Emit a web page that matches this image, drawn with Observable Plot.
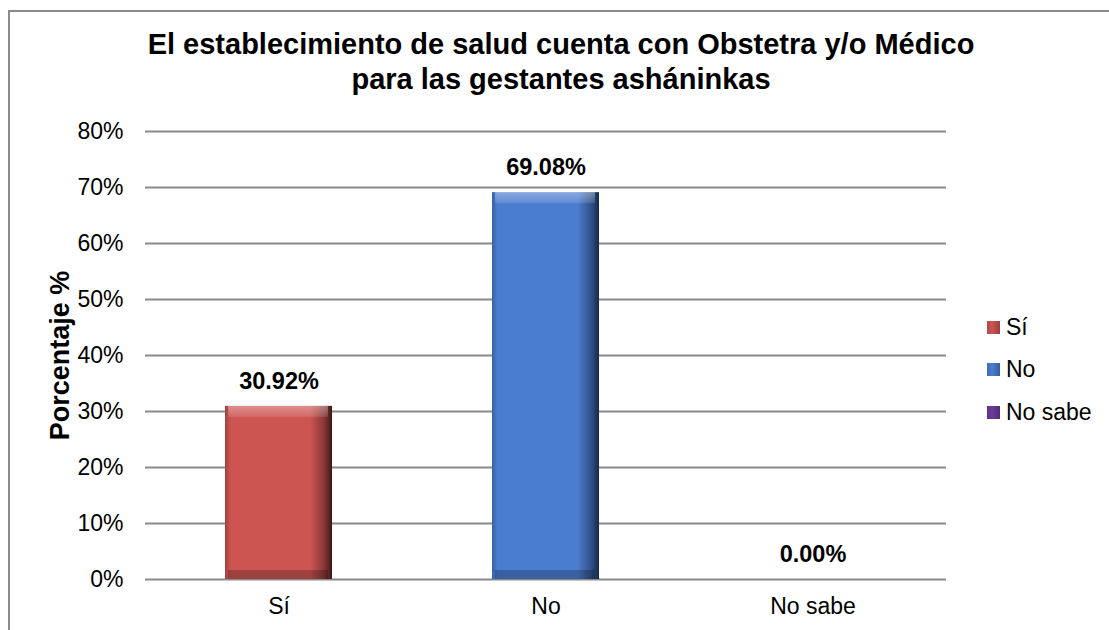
<!DOCTYPE html>
<html>
<head>
<meta charset="utf-8">
<script src="https://cdn.jsdelivr.net/npm/d3@7"></script>
<script src="https://cdn.jsdelivr.net/npm/@observablehq/plot@0.6"></script>
<style>
  html, body { margin: 0; padding: 0; background: #fff; }
  #wrap { position: relative; width: 1109px; height: 630px; overflow: hidden; font-family: Arial, "Liberation Sans", sans-serif; }
  #frame { position: absolute; left: 8px; top: 10px; width: 1200px; height: 800px; border: 2px solid #8a8a8a; box-sizing: border-box; pointer-events: none; }
  #title { height: 110px; box-sizing: border-box; padding-top: 27px; width: 1122px; text-align: center; font-weight: bold; font-size: 29px; line-height: 35px; color: #000; }
  #legend { position: absolute; left: 987px; top: 306px; font-size: 23px; color: #000; }
  .item { display: flex; align-items: center; height: 42.5px; }
  .sw { width: 13px; height: 13px; margin-right: 6px; }
</style>
</head>
<body>
<div id="wrap">
  <div id="frame"></div>
  <div id="title">El establecimiento de salud cuenta con Obstetra y/o Médico<br>para las gestantes asháninkas</div>
  <div id="chart"></div>
  <div id="legend"></div>
</div>
<script>
const categories = ["Sí", "No", "No sabe"];
const values = [0.3092, 0.6908, 0.0];
const labels = ["30.92%", "69.08%", "0.00%"];
const yTicks = [0, 0.1, 0.2, 0.3, 0.4, 0.5, 0.6, 0.7, 0.8];
const baseColors = ["#CC5451", "#4A7CCF", "#6B3A9B"];
const darkColors = ["#3f1514", "#162848", "#2a1040"];
const gradIds = ["gSi", "gNo", "gNs"];

const data = categories.map((c, i) => ({cat: c, value: values[i], label: labels[i]}));
const nonZero = d => d.value > 0;

const plot = Plot.plot({
  width: 1109,
  height: 520,
  marginLeft: 145,
  marginRight: 163,
  marginTop: 21,
  marginBottom: 51,
  style: {fontFamily: "Arial, 'Liberation Sans', sans-serif", fontSize: "23px", color: "#000", background: "transparent", overflow: "visible"},
  x: {domain: categories, paddingInner: 0.6, paddingOuter: 0.3, label: null},
  y: {domain: [0, 0.8], label: null},
  color: {type: "ordinal", domain: categories, range: gradIds.map(id => `url(#${id})`)},
  marks: [
    Plot.gridY(yTicks, {stroke: "#8a8a8a", strokeOpacity: 1, strokeWidth: 2}),
    Plot.barY(data, {x: "cat", y: "value", fill: "cat"}),
    // top bevel (lighter band)
    Plot.rectY(data, {filter: nonZero, x: "cat", y1: "value", y2: "value", insetBottom: -11, insetLeft: 3, insetRight: 4, fill: "url(#gTop)"}),
    // bottom bevel (darker band)
    Plot.rectY(data, {filter: nonZero, x: "cat", y1: 0, y2: 0, insetTop: -9, insetLeft: 3, insetRight: 4, fill: "#000", fillOpacity: 0.22}),
    Plot.axisY(yTicks, {tickFormat: d3.format(".0%"), tickSize: 0, tickPadding: 22, fontSize: 23, label: null}),
    Plot.axisX({tickSize: 0, tickPadding: 18, fontSize: 23, label: null}),
    Plot.text(["Porcentaje %"], {frameAnchor: "left", textAnchor: "middle", rotate: -90, dx: -85, fontWeight: "bold", fontSize: 27}),
    Plot.text(data, {x: "cat", y: "value", text: "label", dy: -25, fontWeight: "bold", fontSize: 23.5})
  ]
});

// gradient definitions for the bevelled bars
const svg = d3.select(plot);
const defs = svg.insert("defs", ":first-child");
gradIds.forEach((id, i) => {
  const base = d3.color(baseColors[i]);
  const g = defs.append("linearGradient").attr("id", id).attr("x1", 0).attr("x2", 1).attr("y1", 0).attr("y2", 0);
  g.append("stop").attr("offset", "0%").attr("stop-color", base.darker(0.7));
  g.append("stop").attr("offset", "5%").attr("stop-color", base);
  g.append("stop").attr("offset", "80%").attr("stop-color", base);
  g.append("stop").attr("offset", "93%").attr("stop-color", base.darker(1.2));
  g.append("stop").attr("offset", "100%").attr("stop-color", darkColors[i]);
});
const gt = defs.append("linearGradient").attr("id", "gTop").attr("x1", 0).attr("x2", 0).attr("y1", 0).attr("y2", 1);
gt.append("stop").attr("offset", "0%").attr("stop-color", "#fff").attr("stop-opacity", 0.35);
gt.append("stop").attr("offset", "100%").attr("stop-color", "#fff").attr("stop-opacity", 0.12);

document.getElementById("chart").appendChild(plot);

// legend
const legend = d3.select("#legend");
categories.forEach((c, i) => {
  const it = legend.append("div").attr("class", "item");
  const base = d3.color(baseColors[i]);
  it.append("div").attr("class", "sw").style("background", `linear-gradient(90deg, ${base.darker(0.4)}, ${base} 40%, ${base.darker(0.8)})`);
  it.append("span").text(c);
});
</script>
</body>
</html>
